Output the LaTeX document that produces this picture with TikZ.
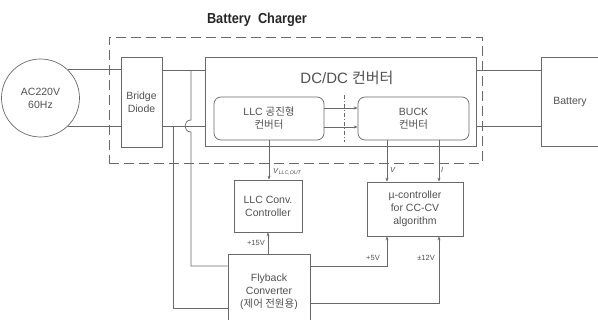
\documentclass[tikz,border=0pt]{standalone}
\usepackage{fontspec}
\setmainfont{Liberation Sans}
\newfontfamily\kr{Noto Sans CJK KR}
\usetikzlibrary{arrows.meta}
\definecolor{ln}{RGB}{105,105,105}
\definecolor{tx}{RGB}{80,80,80}
\begin{document}
\begin{tikzpicture}[x=1pt,y=-1pt,
  box/.style={draw=ln,line width=0.7pt,inner sep=0pt,text=tx,align=center,font=\fontsize{10.5}{13}\selectfont},
  rbox/.style={box,rounded corners=7pt},
  wire/.style={draw=ln,line width=0.7pt},
  arr/.style={wire,-{Stealth[length=4pt,width=3pt]}},
  lbl/.style={text=tx,font=\fontsize{7.5}{9}\selectfont,inner sep=0pt}]
\useasboundingbox (0,0) rectangle (598,320);
\clip (0,0) rectangle (598,320);

% title and charger frame
\node[font=\bfseries\fontsize{14.5}{16}\selectfont,text=black!85,inner sep=0pt] (title) at (257,20) {\scalebox{0.88}[1]{Battery\hspace{4pt} Charger}};
\node[draw=ln,line width=0.7pt,dash pattern=on 10pt off 5pt,minimum width=373pt,minimum height=126pt,inner sep=0pt] (chg) at (295.5,100) {};

% blocks
\node[box,circle,minimum size=78pt] (ac) at (40.5,98) {AC220V\\60Hz};
\node[box,minimum width=41pt,minimum height=90pt] (bridge) at (141.5,102) {Bridge\\Diode};
\node[box,minimum width=271pt,minimum height=89pt] (dcdc) at (340.5,101.5) {};
\node[text=tx,font=\fontsize{15}{18}\selectfont,inner sep=0pt] (dctitle) at (347,78) {DC/DC {\kr 컨버터}};
\node[rbox,minimum width=110pt,minimum height=43pt] (llc) at (269,118.5) {LLC {\kr 공진형}\\{\kr 컨버터}};
\node[rbox,minimum width=111pt,minimum height=43pt] (buck) at (413.5,118.5) {BUCK\\{\kr 컨버터}};
\node[box,minimum width=66pt,minimum height=89pt] (battery) at (574,101.5) {};
\node[text=tx,font=\fontsize{10.5}{13}\selectfont,inner sep=0pt] (battxt) at (570,102) {Battery};
\node[box,minimum width=68pt,minimum height=52pt] (llcctl) at (268,206) {LLC Conv.\\Controller};
\node[box,minimum width=96pt,minimum height=54pt] (mu) at (415,209) {µ-controller\\for CC-CV\\algorithm};
\node[box,minimum width=82pt,minimum height=76pt] (fly) at (269,292) {Flyback\\Converter\\({\kr 제어 전원용})};

% dash-dot separator
\coordinate (dd1) at (344,95);
\coordinate (dd2) at (344,142);
\draw[wire,dash pattern=on 4pt off 2pt on 1pt off 2pt] (dd1) -- (dd2);

% power rails
\coordinate (r1) at (0,70);
\coordinate (r2) at (0,126);
\draw[wire] (ac.46) -- (bridge.west |- ac.46);
\draw[wire] (ac.-46) -- (bridge.west |- ac.-46);
\draw[wire] (bridge.east |- r1) -- (dcdc.west |- r1);
\draw[wire] (bridge.east |- r2) -- (dcdc.west |- r2);
\draw[wire] (dcdc.east |- r1) -- (battery.west |- r1);
\draw[wire] (dcdc.east |- r2) -- (battery.west |- r2);

% taps to flyback
\coordinate (t1) at (173,126);
\coordinate (t1b) at (173,308);
\draw[wire] (t1) -- (t1b) -- (fly.west |- t1b);
\coordinate (t2) at (191,70);
\coordinate (h1) at (191,120);
\coordinate (h2) at (191,132);
\coordinate (t2b) at (191,266);
\draw[wire] (t2) -- (h1) .. controls (183,120) and (183,132) .. (h2) -- (t2b) -- (fly.west |- t2b);

% signal arrows
\draw[arr] (llc.south) -- (llc.south |- llcctl.north);
\draw[arr] (llcctl.south |- fly.north) -- (llcctl.south);
\coordinate (a1) at (0,108);
\coordinate (a2) at (0,127);
\draw[arr] (llc.east |- a1) -- (buck.west |- a1);
\draw[arr] (llc.east |- a2) -- (buck.west |- a2);
\coordinate (c1) at (387,0);
\coordinate (c2) at (439,0);
\draw[arr] (buck.south -| c1) -- (mu.north -| c1);
\draw[arr] (buck.south -| c2) -- (mu.north -| c2);
\coordinate (f1) at (0,266);
\coordinate (f2) at (0,303);
\draw[arr] (fly.east |- f1) -| (mu.south -| c1);
\draw[arr] (fly.east |- f2) -| (mu.south -| c2);

% labels
\node[lbl,anchor=west] (vllc) at (273,172) {\textit{V}\textsubscript{\textit{LLC,OUT}}};
\node[lbl,anchor=east] (p15) at (265,243) {+15V};
\node[lbl,anchor=west] (vl) at (390,170) {\textit{V}};
\node[lbl,anchor=west] (il) at (441,170) {\textit{I}};
\node[lbl,anchor=east] (p5) at (380,258) {+5V};
\node[lbl,anchor=east] (p12) at (435,258) {±12V};
\end{tikzpicture}
\end{document}
